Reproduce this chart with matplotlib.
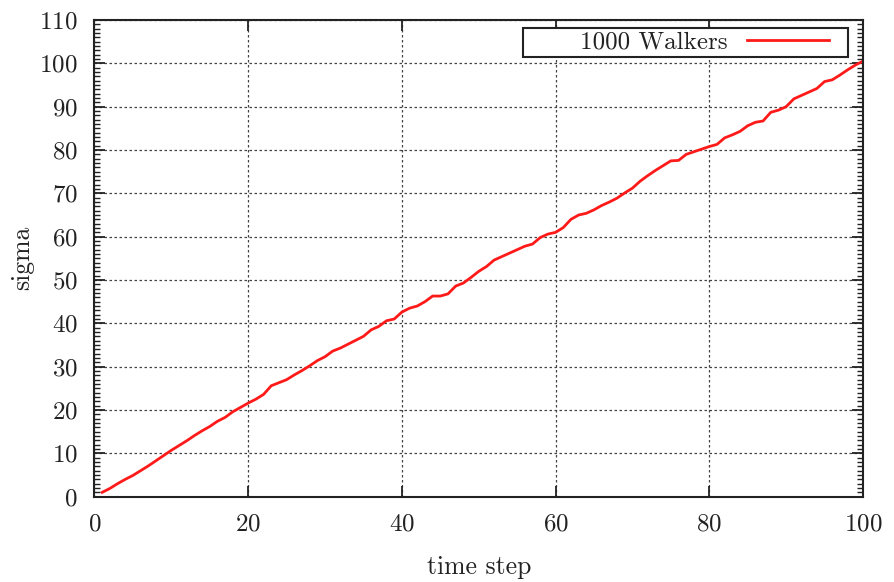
import matplotlib
matplotlib.use('Agg')
from matplotlib import pyplot as plt
from matplotlib.patches import Rectangle
from matplotlib.ticker import MultipleLocator

plt.rcParams['font.family'] = ['cmr10', 'DejaVu Serif']
plt.rcParams['axes.formatter.use_mathtext'] = True

# time steps and measured sigma for 1000 walkers
time_step = list(range(1, 101))
sigma = [
    1.0, 1.9, 3.0, 4.0, 4.9, 6.0, 7.1, 8.3, 9.5, 10.7,
    11.8, 12.9, 14.1, 15.2, 16.2, 17.4, 18.3, 19.6, 20.6, 21.6,
    22.5, 23.6, 25.6, 26.3, 27.0, 28.1, 29.1, 30.2, 31.4, 32.3,
    33.6, 34.3, 35.2, 36.1, 37.0, 38.5, 39.3, 40.6, 41.0, 42.6,
    43.5, 44.0, 45.0, 46.3, 46.3, 46.8, 48.6, 49.3, 50.6, 52.0,
    53.1, 54.6, 55.4, 56.2, 57.0, 57.8, 58.3, 59.8, 60.6, 61.0,
    62.1, 64.0, 65.0, 65.4, 66.2, 67.2, 68.0, 68.9, 70.1, 71.2,
    72.8, 74.1, 75.3, 76.4, 77.5, 77.6, 79.0, 79.6, 80.2, 80.8,
    81.3, 82.8, 83.5, 84.3, 85.6, 86.4, 86.7, 88.7, 89.2, 90.0,
    91.8, 92.6, 93.4, 94.2, 95.8, 96.2, 97.3, 98.5, 99.6, 100.5,
]

fig = plt.figure(figsize=(8.94, 5.82), dpi=100)
ax = fig.add_axes([0.1057, 0.1466, 0.8596, 0.819])

ax.plot(time_step, sigma, '-', color='#ff1a1a', linewidth=2, label='1000 Walkers')

ax.set_xlim(0, 100)
ax.set_ylim(0, 110)
ax.xaxis.set_major_locator(MultipleLocator(20))
ax.yaxis.set_major_locator(MultipleLocator(10))
ax.yaxis.set_minor_locator(MultipleLocator(1))

ax.grid(True, which='major', color='#444444', linestyle=(0, (2, 2)), linewidth=0.9)

ax.tick_params(which='major', direction='in', length=8, width=1.3,
               top=True, right=True, labelsize=18, colors='#222222')
ax.tick_params(axis='x', which='major', pad=12)
ax.tick_params(axis='y', which='major', pad=12)
ax.tick_params(axis='y', which='minor', direction='in', length=4, width=1.0,
               left=True, right=True, colors='#222222')
for sp in ax.spines.values():
    sp.set_linewidth(1.5)
    sp.set_color('#222222')

ax.set_xlabel('time step', fontsize=18.5, color='#222222', labelpad=14)
ax.set_ylabel('sigma', fontsize=18.5, color='#222222', labelpad=4)

# gnuplot style key: text first, sample line after, in a wide box
leg = ax.legend(loc='center', bbox_to_anchor=(0.794, 0.953), fontsize=18,
                markerfirst=False, frameon=False, handlelength=3.3,
                borderpad=0.0, handletextpad=0.75)
for t in leg.get_texts():
    t.set_color('#222222')
ax.add_patch(Rectangle((0.5576, 0.922), 0.4229, 0.061, transform=ax.transAxes,
                       facecolor='white', edgecolor='#222222', linewidth=1.5,
                       zorder=4))
leg.set_zorder(5)

fig.savefig('out.png', dpi=100)
